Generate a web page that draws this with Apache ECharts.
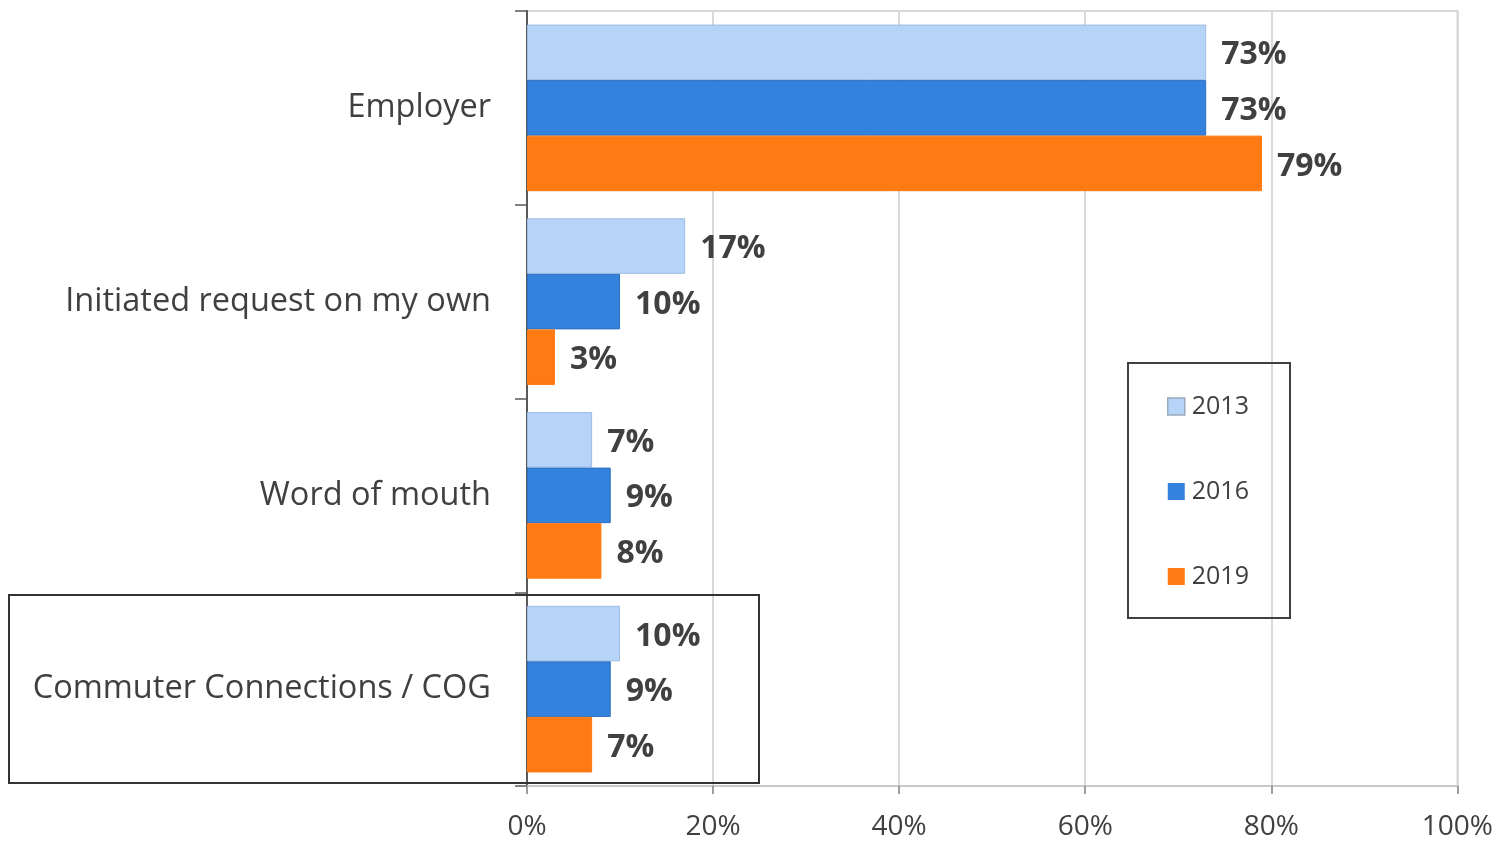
<!DOCTYPE html>
<html>
<head>
<meta charset="utf-8">
<script src="https://cdn.jsdelivr.net/npm/echarts@6/dist/echarts.min.js"></script>
<style>
  html, body { margin: 0; padding: 0; background: #ffffff; }
  #chart { width: 1496px; height: 841px; }
</style>
</head>
<body>
<div id="chart"></div>
<script>
// How people first heard about the program, by survey year (percent)
const categories = ['Employer', 'Initiated request on my own', 'Word of mouth', 'Commuter Connections / COG'];
const years = ['2013', '2016', '2019'];
const values2013 = [73, 17, 7, 10];
const values2016 = [73, 10, 9, 9];
const values2019 = [79, 3, 8, 7];
const xTicks = [0, 20, 40, 60, 80, 100];

const FONT = 'Open Sans';
const TEXT = '#404040';
const colors = ['#b6d4f7', '#3282de', '#ff7a12'];
const borders = ['#9fbde3', '#3070c0', '#ff7a12'];
const seriesValues = [values2013, values2016, values2019];

const chart = echarts.init(document.getElementById('chart'), null, { renderer: 'canvas' });

const series = years.map((y, i) => ({
  name: y,
  type: 'bar',
  data: seriesValues[i],
  barGap: '0%',
  barCategoryGap: '14%',
  itemStyle: { color: colors[i], borderColor: borders[i], borderWidth: 1 },
  label: {
    show: true,
    position: 'right',
    distance: 15,
    offset: [0, 3],
    formatter: p => p.value + '%',
    fontFamily: FONT,
    fontWeight: 'bold',
    fontSize: 32,
    color: TEXT
  }
}));

chart.setOption({
  animation: false,
  textStyle: { fontFamily: FONT },
  grid: {
    left: 527, right: 37, top: 11, bottom: 54,
    show: true, borderColor: '#d9d9d9', borderWidth: 2
  },
  legend: {
    orient: 'vertical',
    left: 1162, top: 389,
    icon: 'rect',
    itemWidth: 17, itemHeight: 17,
    itemGap: 60,
    textStyle: { fontFamily: FONT, fontSize: 25, color: TEXT, padding: [0, 0, 0, 2] },
    data: [
      { name: '2013', itemStyle: { borderColor: '#9aa9bb', borderWidth: 1.5 } },
      { name: '2016', itemStyle: { borderWidth: 0 } },
      { name: '2019', itemStyle: { borderWidth: 0 } }
    ]
  },
  xAxis: {
    type: 'value',
    min: 0, max: 100, interval: 20,
    axisLine: { show: true, lineStyle: { color: '#c8c8c8', width: 2 } },
    axisTick: { show: true, length: 8, lineStyle: { color: '#7f7f7f', width: 1.5 } },
    splitLine: { show: true, lineStyle: { color: '#d9d9d9', width: 2 } },
    axisLabel: {
      formatter: v => xTicks.includes(v) ? v + '%' : '',
      fontFamily: FONT, fontSize: 28, color: TEXT, margin: 27
    }
  },
  yAxis: {
    type: 'category',
    inverse: true,
    data: categories,
    axisLine: { show: true, lineStyle: { color: '#595959', width: 2 } },
    axisTick: { show: true, length: 12, lineStyle: { color: '#595959', width: 1.5 } },
    axisLabel: { fontFamily: FONT, fontSize: 32.5, color: TEXT, margin: 36, padding: [7, 0, 0, 0] }
  },
  graphic: [
    {
      type: 'rect',
      shape: { x: 1128, y: 363, width: 162, height: 255 },
      style: { fill: 'none', stroke: '#404040', lineWidth: 2 },
      z: 10
    },
    {
      type: 'rect',
      shape: { x: 9, y: 595, width: 750, height: 188 },
      style: { fill: 'none', stroke: '#333333', lineWidth: 2 },
      z: 10
    }
  ],
  series: series
});
</script>
</body>
</html>
